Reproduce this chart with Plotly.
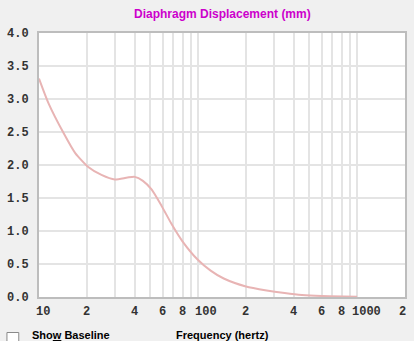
import math
import plotly.graph_objects as go

freq = [10, 11.5, 14.3, 16.9, 20.4, 24.7, 30, 36, 40, 45, 51, 59, 68, 80, 100, 120, 145, 200, 270, 350, 450, 600, 1000]
disp = [3.31, 2.93, 2.48, 2.18, 1.97, 1.85, 1.78, 1.81, 1.82, 1.76, 1.63, 1.38, 1.11, 0.84, 0.56, 0.40, 0.28, 0.16, 0.10, 0.06, 0.03, 0.015, 0.005]

x_gridvals = [10, 20, 30, 40, 50, 60, 70, 80, 90, 100, 200, 300, 400, 500, 600, 700, 800, 900, 1000, 2000]
x_labelvals = [10, 20, 40, 60, 80, 100, 200, 400, 600, 800, 1000, 2000]
x_labeltext = ["10", "2", "4", "6", "8", "100", "2", "4", "6", "8", "1000", "2"]
y_tickvals = [0, 0.5, 1.0, 1.5, 2.0, 2.5, 3.0, 3.5, 4.0]
y_ticktext = ["0.0", "0.5", "1.0", "1.5", "2.0", "2.5", "3.0", "3.5", "4.0"]

title_text = "Diaphragm Displacement (mm)"
xlabel_text = "Frequency (hertz)"
baseline_text = "Sho<u>w</u> Baseline"

L, R, T, B = 36, 7, 33, 44
W, H = 414, 341
pw, ph = W - L - R, H - T - B

def px(x):
    return (x - L) / pw

def py(y):
    return (H - B - y) / ph

fig = go.Figure()
fig.add_trace(go.Scatter(x=freq, y=disp, mode="lines",
                         line=dict(color="#e8b4b4", width=2, shape="spline", smoothing=0.6),
                         hoverinfo="skip", showlegend=False))

tickfont = dict(family="Liberation Mono", size=12, color="#333333", weight="bold")
fig.update_xaxes(type="log", range=[1, 3.30103], tickvals=x_gridvals, showticklabels=False,
                 showgrid=True, gridcolor="#e4e4e4", gridwidth=2, zeroline=False,
                 showline=True, linecolor="#bdbdbd", linewidth=2, mirror=True, ticks="")
fig.update_yaxes(range=[0, 4], tickvals=y_tickvals, ticktext=y_ticktext,
                 showgrid=True, gridcolor="#e4e4e4", gridwidth=2, zeroline=False,
                 showline=True, linecolor="#bdbdbd", linewidth=2, mirror=True,
                 ticks="", tickfont=tickfont, ticklabelstandoff=6)

for v, t in zip(x_labelvals, x_labeltext):
    if len(t) == 2:
        shift = 4
    elif len(t) == 3:
        shift = 8
    elif len(t) == 4:
        shift = 9
    elif v == x_labelvals[-1]:
        shift = -3
    else:
        shift = 0
    fig.add_annotation(text=t, xref="x", yref="paper", x=math.log10(v), y=0,
                       xanchor="center", yanchor="middle", xshift=shift, yshift=-15,
                       showarrow=False, font=tickfont)

fig.add_annotation(text="<b>" + title_text + "</b>", xref="paper", yref="paper", x=0.5, y=py(14),
                   xanchor="center", yanchor="middle", showarrow=False,
                   font=dict(family="Liberation Sans", size=12, color="#cc00cc"))
fig.add_annotation(text="<b>" + xlabel_text + "</b>", xref="paper", yref="paper", x=0.5, y=py(335),
                   xanchor="center", yanchor="middle", showarrow=False,
                   font=dict(family="Liberation Sans", size=11, color="#000000"))
fig.add_annotation(text="<b>" + baseline_text + "</b>", xref="paper", yref="paper", x=px(27), y=py(335),
                   xanchor="left", yanchor="middle", showarrow=False,
                   font=dict(family="Liberation Sans", size=11, color="#000000"))
fig.add_shape(type="rect", xref="paper", yref="paper", x0=px(3.5), x1=px(15.5), y0=py(344), y1=py(332.5),
              line=dict(color="#8a8a8a", width=1), fillcolor="white", layer="above")

fig.update_layout(width=W, height=H, margin=dict(l=L, r=R, t=T, b=B),
                  paper_bgcolor="#f0f0f0", plot_bgcolor="white")

fig.write_html("out.html")
